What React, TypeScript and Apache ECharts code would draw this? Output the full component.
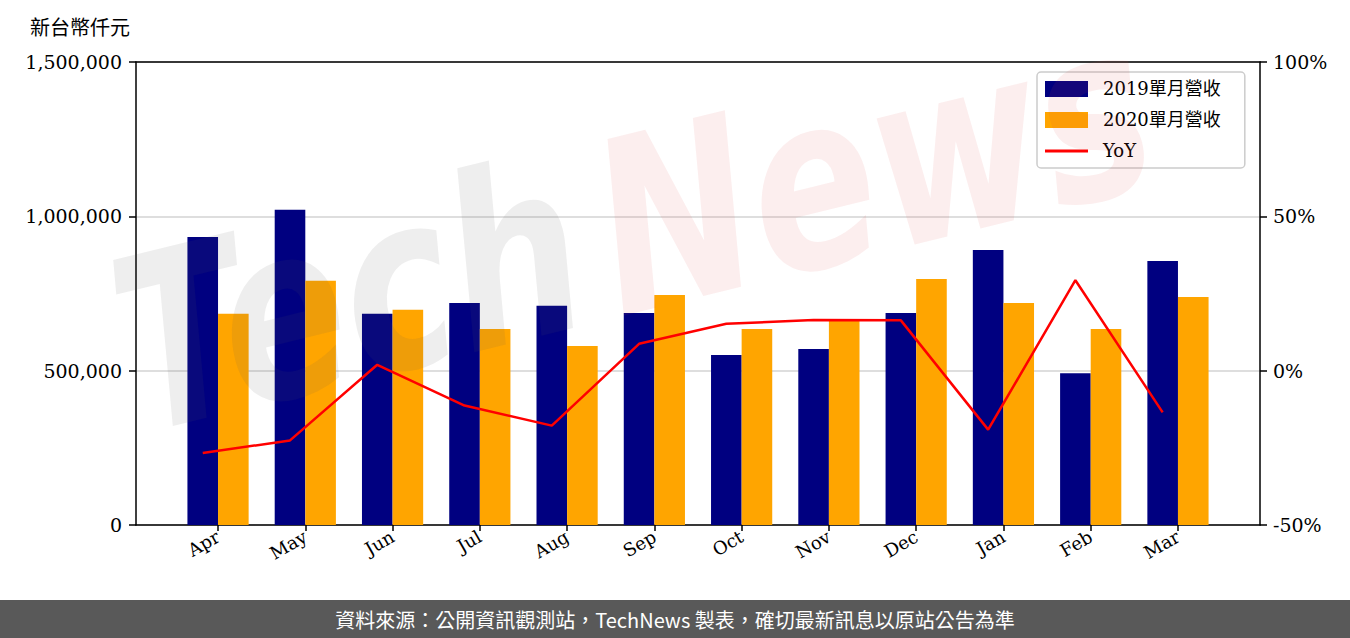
import React, { useEffect, useRef } from "react";
import * as echarts from "echarts";

const months = ["Apr", "May", "Jun", "Jul", "Aug", "Sep", "Oct", "Nov", "Dec", "Jan", "Feb", "Mar"];
const rev2019 = [933000, 1021000, 684000, 719000, 710000, 687000, 551000, 570000, 687000, 891000, 492000, 855000];
const rev2020 = [684000, 791000, 697000, 635000, 580000, 745000, 635000, 661000, 797000, 719000, 635000, 739000];
const yoy = [-26.7, -22.6, 1.9, -11.3, -17.8, 8.7, 15.2, 16.4, 16.3, -19.1, 29.3, -13.5];
const leftTicks = { min: 0, max: 1500000, interval: 500000 };
const rightTicks = { min: -50, max: 100, interval: 50 };

const SERIF = "'DejaVu Serif', 'Noto Sans CJK TC', serif";
const CJK = "'Noto Sans CJK TC', sans-serif";

export default function App() {
  const ref = useRef<HTMLDivElement>(null);
  useEffect(() => {
    if (!ref.current) return;
    const chart = echarts.init(ref.current, null, { renderer: "svg" });
    const gridTop = 62;
    const gridBottom = 113;
    const barW = 30.6;
    const black = { color: "#000", width: 1.5 };
    const option: any = {
      animation: false,
      backgroundColor: "#fff",
      grid: [
        { left: 136, right: 90, top: gridTop, bottom: gridBottom },
        { left: 174.4, right: 128.4, top: gridTop, bottom: gridBottom },
        { left: 174.4 - barW / 2, right: 128.4 + barW / 2, top: gridTop, bottom: gridBottom },
      ],
      xAxis: [
        {
          gridIndex: 0, type: "value", min: 0, max: 1, position: "bottom",
          axisLine: { show: true, onZero: false, lineStyle: black },
          axisTick: { show: false }, axisLabel: { show: false }, splitLine: { show: false },
        },
        {
          gridIndex: 1, type: "category", data: months,
          axisLine: { show: false, onZero: false },
          axisTick: { show: true, alignWithLabel: true, length: 6, lineStyle: black },
          axisLabel: { rotate: 30, margin: 10, color: "#000", fontFamily: SERIF, fontSize: 18 },
          splitLine: { show: false },
        },
        {
          gridIndex: 0, type: "value", min: 0, max: 1, position: "top",
          axisLine: { show: true, onZero: false, lineStyle: black },
          axisTick: { show: false }, axisLabel: { show: false }, splitLine: { show: false },
        },
        { gridIndex: 2, type: "category", data: months, show: false, axisLine: { onZero: false } },
      ],
      yAxis: [
        {
          gridIndex: 0, type: "value", position: "left", ...leftTicks,
          axisLine: { show: true, onZero: false, lineStyle: black },
          axisTick: { show: true, length: 7, lineStyle: black },
          axisLabel: { margin: 14, color: "#000", fontFamily: SERIF, fontSize: 19, formatter: (v: number) => v.toLocaleString("en-US") },
          splitLine: { show: true, lineStyle: { color: "#d3d3d3", width: 1.5 } },
        },
        {
          gridIndex: 0, type: "value", position: "right", ...rightTicks,
          axisLine: { show: true, onZero: false, lineStyle: black },
          axisTick: { show: true, length: 7, lineStyle: black },
          axisLabel: { margin: 13, color: "#000", fontFamily: SERIF, fontSize: 19, formatter: (v: number) => v + "%" },
          splitLine: { show: false },
        },
        { gridIndex: 1, type: "value", show: false, ...leftTicks, splitLine: { show: false } },
        { gridIndex: 2, type: "value", show: false, ...rightTicks, splitLine: { show: false } },
      ],
      legend: {
        orient: "vertical", left: 1037, top: 72,
        padding: [8, 24, 8, 8],
        itemWidth: 43, itemHeight: 16, itemGap: 13,
        borderColor: "#cccccc", borderWidth: 1.5, borderRadius: 4,
        backgroundColor: "rgba(255,255,255,0.8)",
        textStyle: { fontFamily: SERIF, fontSize: 18, color: "#000", padding: [0, 0, 0, 10] },
        data: [
          { name: "2019單月營收", icon: "rect" },
          { name: "2020單月營收", icon: "rect" },
          { name: "YoY", icon: "path://M0,0 H43 V3 H0 Z" },
        ],
      },
      series: [
        {
          name: "2019單月營收", type: "bar", xAxisIndex: 1, yAxisIndex: 2,
          data: rev2019, barWidth: barW, barGap: "0%",
          itemStyle: { color: "#000080" },
        },
        {
          name: "2020單月營收", type: "bar", xAxisIndex: 1, yAxisIndex: 2,
          data: rev2020, barWidth: barW, barGap: "0%",
          itemStyle: { color: "#ffa500" },
        },
        {
          name: "YoY", type: "line", xAxisIndex: 3, yAxisIndex: 3,
          data: yoy, symbol: "none", z: 5,
          lineStyle: { color: "#ff0000", width: 2.5 },
          itemStyle: { color: "#ff0000" },
        },
      ],
      graphic: [
        {
          type: "text", left: 30, top: 16, z: 10,
          style: { text: "新台幣仟元", fontFamily: CJK, fontSize: 20, fill: "#000" },
        },
        {
          type: "group", x: 150, y: 470, rotation: 0.24, z: 100, silent: true, scaleY: 1.3,
          children: [
            { type: "text", x: 0, y: 0, z: 100, silent: true, style: { text: "Tech", fontFamily: "'DejaVu Sans'", fontWeight: "bold", fontStyle: "italic", fontSize: 185, fill: "rgba(90,90,90,0.1)", textVerticalAlign: "bottom" } },
            { type: "text", x: 493, y: 0, z: 100, silent: true, style: { text: "News", fontFamily: "'DejaVu Sans'", fontWeight: "bold", fontStyle: "italic", fontSize: 185, fill: "rgba(220,70,70,0.09)", textVerticalAlign: "bottom" } },
          ],
        },
        {
          type: "rect", left: 0, top: 600, z: 50,
          shape: { width: 1350, height: 38 }, style: { fill: "#595959" },
        },
        {
          type: "text", x: 675, y: 619, z: 51,
          style: { text: "資料來源：公開資訊觀測站，TechNews 製表，確切最新訊息以原站公告為準", fontFamily: CJK, fontSize: 20, fill: "#fff", textAlign: "center", textVerticalAlign: "middle" },
        },
      ],
    };
    chart.setOption(option);
    return () => chart.dispose();
  }, []);
  return <div ref={ref} style={{ position: "fixed", left: 0, top: 0, width: 1350, height: 638 }} />;
}
